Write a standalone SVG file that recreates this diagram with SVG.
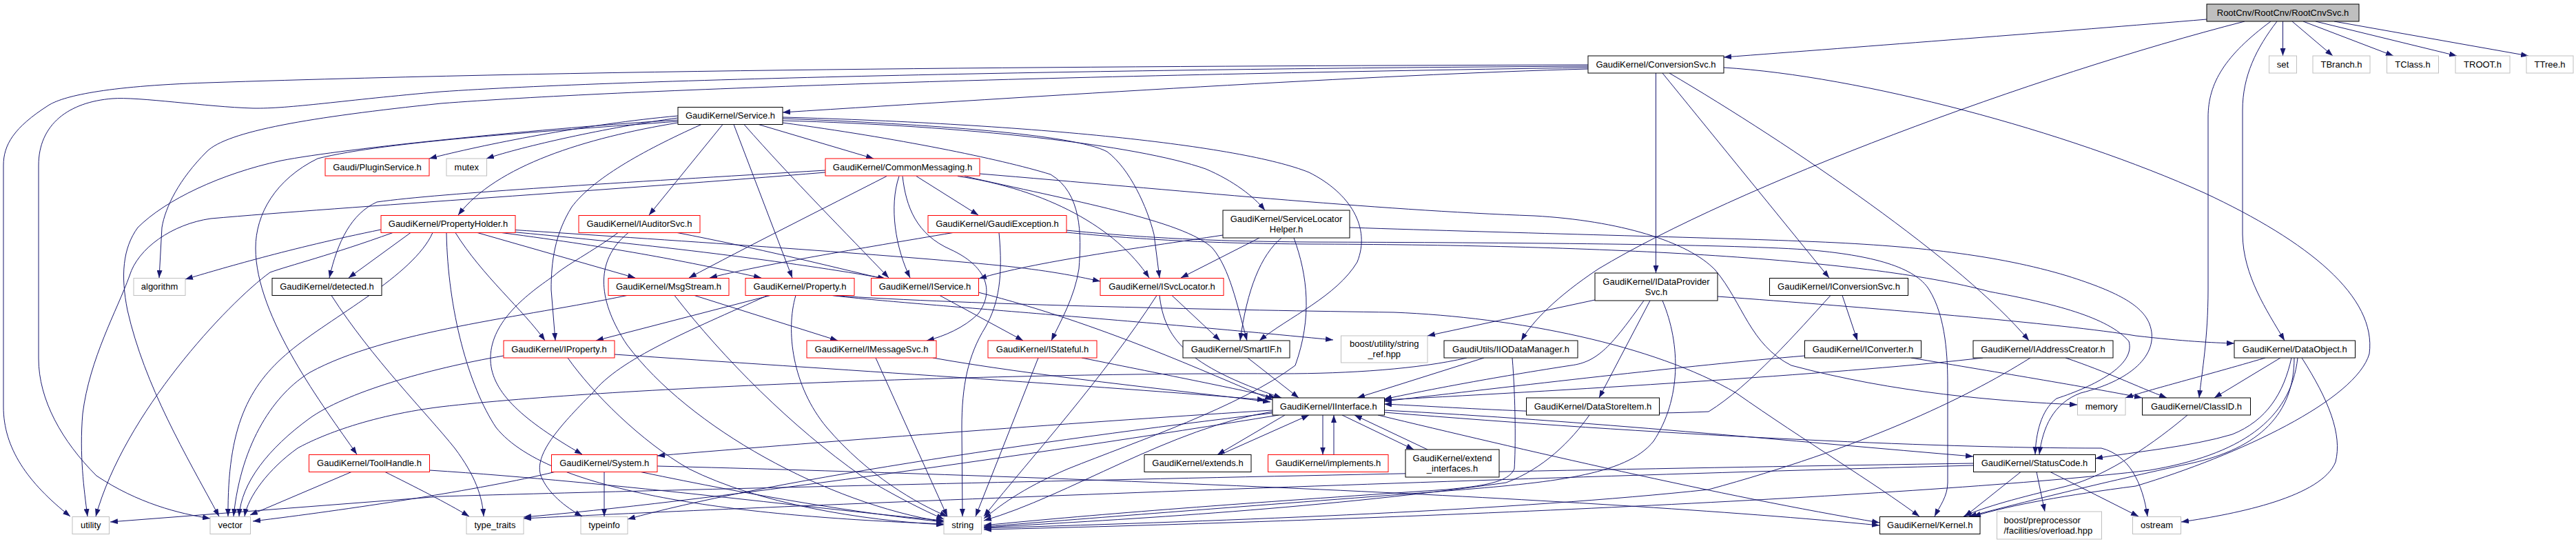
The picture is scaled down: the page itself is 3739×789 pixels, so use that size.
<svg xmlns="http://www.w3.org/2000/svg" width="3739" height="789" viewBox="0 0 3739 789">
<defs>
<marker id="a" viewBox="0 0 11 8" refX="11" refY="4" markerWidth="11" markerHeight="8" orient="auto" markerUnits="userSpaceOnUse"><path d="M0,0L11,4L0,8z" fill="#191970"/></marker>
<style>
rect{fill:#fff;stroke:#000;stroke-width:1}
.r rect{stroke:#ff0000}
.g rect{stroke:#bfbfbf}
.root rect{fill:#bfbfbf;stroke:#000}
text{font-family:"Liberation Sans",Arial,Helvetica,sans-serif;font-size:13px;text-anchor:middle;fill:#000}
.lt text{text-anchor:start}
#edges path{fill:none;stroke:#191970;stroke-width:1;marker-end:url(#a)}
</style>
</defs>
<rect x="0" y="0" width="3739" height="789" style="fill:#fff;stroke:none"/>
<g id="edges">
<path d="M3203,28 C3000,45 2700,68 2502,83"/>
<path d="M3258,31 C2950,110 2520,270 2320,390 C2260,430 2225,465 2208,494"/>
<path d="M3313.5,31 L3313.5,81"/>
<path d="M3327,31 L3386,81"/>
<path d="M3343,31 L3474,81"/>
<path d="M3361,31 L3566,81"/>
<path d="M3388,31 L3670,81"/>
<path d="M3296,31 C3230,80 3205,120 3205,170 L3205,420 C3205,490 3196,540 3192,577"/>
<path d="M3305,31 C3275,70 3255,110 3255,160 L3255,340 C3256,400 3290,450 3316,494"/>
<path d="M2305,100 C2000,108 1500,140 1136,163"/>
<path d="M2305,94 C1600,96 900,100 300,120 C150,125 90,140 70,153 C20,185 5,210 5,240 L5,590 C5,650 40,700 102,749"/>
<path d="M2305,96 C1600,100 900,115 640,133 C500,145 420,158 367,157 C300,155 200,140 163,143 C100,148 56,180 56,240 L56,520 C56,580 90,640 140,690 C200,730 260,745 305,752"/>
<path d="M2305,98 C1500,110 900,130 640,150 C450,170 330,190 300,220 C260,260 240,300 235,330 L231,403"/>
<path d="M2403.5,106 L2403.5,396"/>
<path d="M2413,106 L2655,403"/>
<path d="M2423,106 C2600,210 2850,380 2945,494"/>
<path d="M2502,98 C2700,110 3000,190 3200,280 C3350,350 3450,430 3439,513 C3420,580 3250,660 3100,705 C3000,718 2920,732 2864,749"/>
<path d="M984,168 C850,180 700,210 623,230"/>
<path d="M984,171 C880,185 760,212 706,230"/>
<path d="M1101,180.5 L1268,230"/>
<path d="M984,178 C850,200 720,240 665,312"/>
<path d="M1049,180.5 L942,312"/>
<path d="M1065,180.5 L1150,403"/>
<path d="M1080,180.5 C1150,260 1230,340 1290,403"/>
<path d="M984,176 C800,190 560,205 461,230 C400,260 371,310 371,360 C371,460 470,590 518,659"/>
<path d="M984,174 C800,185 500,215 408,233 C320,252 240,290 200,330 C178,360 175,400 185,450 C210,560 270,660 318,749"/>
<path d="M1018,180.5 C930,220 860,260 830,300 C805,340 800,380 800,420 L806,494"/>
<path d="M1136,178 C1300,200 1450,230 1525,253 C1570,280 1570,340 1566,390 C1560,430 1540,465 1526,494"/>
<path d="M1136,172 C1350,180 1560,195 1607,220 C1640,245 1665,300 1675,340 L1683,403"/>
<path d="M1136,175 C1400,182 1650,210 1750,245 C1790,262 1820,285 1836,305"/>
<path d="M1136,170 C1500,180 1800,210 1900,250 C1960,280 1990,330 1970,380 C1940,430 1870,460 1828,494"/>
<path d="M1198,247 C900,265 640,280 547,293 C510,310 490,350 478,403"/>
<path d="M1198,250 C900,275 500,300 306,317 C250,325 200,360 188,400 C170,450 130,520 120,600 C115,660 122,710 127,749"/>
<path d="M1330,255.5 L1420,312"/>
<path d="M1287,255.5 C1200,300 1080,360 1000,403"/>
<path d="M1305,255.5 C1290,300 1300,360 1321,403"/>
<path d="M1310,255.5 C1315,300 1330,340 1380,362 C1430,385 1445,420 1420,455 C1400,475 1370,488 1345,494"/>
<path d="M1390,255.5 C1520,275 1620,330 1668,403"/>
<path d="M1400,255.5 C1550,290 1720,320 1760,360 C1785,390 1795,440 1810,494"/>
<path d="M1422,252 C1700,275 2000,305 2227,313 C2350,320 2450,350 2490,392 C2530,440 2540,500 2600,530 C2750,570 2900,582 3015,587"/>
<path d="M553,333 C420,360 320,390 269,405"/>
<path d="M596,337.5 L506,403"/>
<path d="M693,337.5 L922,403"/>
<path d="M728,337.5 C900,360 1000,380 1105,403"/>
<path d="M661,337.5 C700,400 760,450 791,494"/>
<path d="M570,337.5 C480,370 420,385 392,395 C330,440 180,600 139,749"/>
<path d="M628,337.5 C600,400 480,460 420,510 C360,560 330,620 331,749"/>
<path d="M648,337.5 C650,450 680,560 720,620 C800,720 1100,750 1370,760"/>
<path d="M728,335 C950,355 1150,380 1285,404"/>
<path d="M740,333 C1000,350 1300,370 1450,385 C1520,392 1560,400 1597,408"/>
<path d="M897,337.5 C860,365 820,385 804,400 C760,430 710,470 712,523 C714,570 760,610 845,659"/>
<path d="M912,337.5 C860,380 870,440 910,500 C1000,620 1200,730 1370,757"/>
<path d="M983,337.5 C1100,360 1200,385 1285,405"/>
<path d="M1383,337.5 C1250,360 1100,385 1030,403"/>
<path d="M1450,337.5 C1456,400 1450,440 1430,475 C1405,515 1396,560 1396,620 L1397,749"/>
<path d="M1548,334 C1650,344 1750,350 1900,351 C2200,352 2500,354 2620,362 C2720,370 2780,388 2800,420 C2825,460 2827,520 2827,560 L2827,700 C2827,720 2815,735 2808,749"/>
<path d="M1548,337 C1650,347 1750,353 1900,354 C2300,355 2700,372 2888,423 C2980,440 3060,460 3090,495 C3100,530 3040,560 2985,578 C2962,595 2955,630 2954,659"/>
<path d="M1775,341 C1650,360 1500,380 1421,404"/>
<path d="M1828,345 L1714,403"/>
<path d="M1860,345 C1830,370 1810,420 1800,494"/>
<path d="M1878,345 C1898,400 1905,460 1880,530 C1800,590 1650,640 1550,680 C1480,710 1450,735 1428,752"/>
<path d="M1959,330 C2200,338 2500,345 2620,350 C2780,356 2900,370 3000,400 C3080,425 3110,445 3120,470 C3135,510 3100,550 3020,570 C2980,585 2965,620 2960,659"/>
<path d="M910,428.5 C760,460 560,480 450,540 C400,570 350,640 339,749"/>
<path d="M979,428.5 C1050,520 1150,620 1250,690 C1300,720 1340,740 1370,753"/>
<path d="M1008,428.5 L1216,494"/>
<path d="M1118,428.5 L865,494"/>
<path d="M1114,428.5 C1000,480 900,520 860,570 C810,620 775,660 785,690 C795,715 820,735 845,749"/>
<path d="M1155,428.5 C1140,480 1150,560 1200,620 C1260,690 1330,730 1375,749"/>
<path d="M1208,428.5 C1300,440 1600,460 1935,493"/>
<path d="M1208,428.5 C1400,442 1800,450 2023,453 C2200,460 2400,500 2520,570 C2620,640 2720,700 2786,749"/>
<path d="M1364,428.5 L1485,494"/>
<path d="M1420,424 C1600,470 1750,540 1847,580"/>
<path d="M1679,428.5 C1600,550 1500,660 1428,749"/>
<path d="M1683,428.5 C1690,490 1720,530 1860,577"/>
<path d="M1701,428.5 L1771,494"/>
<path d="M731,516 C620,535 500,570 449,607 C390,650 350,700 347,749"/>
<path d="M824,519 C860,570 930,640 1000,680 C1100,730 1250,755 1370,761"/>
<path d="M892,514 C1200,535 1600,560 1836,580"/>
<path d="M1271,519 L1375,749"/>
<path d="M1354,519 C1500,545 1700,565 1844,583"/>
<path d="M1507,519 L1416,749"/>
<path d="M1570,519 C1700,545 1800,565 1852,577"/>
<path d="M1811,519 L1885,577"/>
<path d="M2129,519 C2060,535 1960,542 1860,542 C1500,540 900,560 640,590 C520,605 450,640 432,650 C390,680 360,720 355,749"/>
<path d="M2154,519 L1970,577"/>
<path d="M2195,519 C2200,580 2200,650 2198,680 C2190,700 2150,705 2100,710 C1800,730 1600,745 1428,762"/>
<path d="M2315,435 L2072,487"/>
<path d="M2386,436 C2340,500 2320,525 2280,530 C2150,550 2050,570 2009,579"/>
<path d="M2395,436 L2321,577"/>
<path d="M2413,436 C2440,500 2440,580 2400,640 C2360,690 2250,700 2100,712 C1800,735 1600,750 1428,764"/>
<path d="M2493,430 C2700,445 3000,470 3100,487 C3170,495 3210,497 3243,498"/>
<path d="M2657,428.5 C2610,480 2540,560 2480,597 C2300,605 2100,590 2009,586"/>
<path d="M2674,428.5 L2696,494"/>
<path d="M2620,516 C2450,530 2200,560 2009,582"/>
<path d="M2774,519 C2900,540 3050,565 3109,577"/>
<path d="M2878,519 C2700,540 2300,565 2009,580"/>
<path d="M2947,519 C2850,580 2700,650 2480,710 C2200,740 1800,755 1428,766"/>
<path d="M2998,519 C3060,540 3100,560 3145,577"/>
<path d="M3288,519 C3200,545 3120,565 3085,577"/>
<path d="M3310,519 L3214,577"/>
<path d="M3326,519 C3315,570 3290,610 3240,630 C3180,648 3100,655 3041,665"/>
<path d="M3330,519 C3330,600 3280,650 3180,672 C3050,700 2930,730 2858,749"/>
<path d="M3341,519 C3380,580 3400,630 3390,670 C3370,720 3250,745 3166,757"/>
<path d="M3335,519 C3325,610 3250,660 3120,682 C2800,720 2000,755 1428,768"/>
<path d="M2307,602 C2280,640 2240,680 2186,700 C1900,740 1600,755 1428,765"/>
<path d="M1865,602 L1767,659.5"/>
<path d="M1771,659.5 L1900,602"/>
<path d="M1920,602 L1920,659.5"/>
<path d="M1936,659.5 L1936,602"/>
<path d="M1948,602 L2052,652"/>
<path d="M2072,652 L1966,602"/>
<path d="M1847,595 C1600,610 1200,640 954,661"/>
<path d="M1847,599 C1500,640 1100,700 911,753"/>
<path d="M1856,602 C1500,660 1000,730 760,750"/>
<path d="M1847,597 C1700,620 1550,720 1428,755"/>
<path d="M2009,595 C2300,610 2600,640 2864,662"/>
<path d="M2000,602 C2200,650 2500,720 2728,758"/>
<path d="M2009,598 C2400,630 2800,650 3050,650 C3090,660 3110,700 3117,749"/>
<path d="M510,684.5 L363,747"/>
<path d="M559,684.5 C600,705 650,730 681,749"/>
<path d="M623.5,682 C900,700 1200,740 1370,755"/>
<path d="M877,684.5 L877,749"/>
<path d="M805,684.5 C700,710 500,740 367,756"/>
<path d="M930,684.5 C1100,720 1250,745 1370,757"/>
<path d="M954,676 C1500,690 2300,720 2728,762"/>
<path d="M481,428.5 C540,520 620,600 660,650 C690,690 700,720 702,749"/>
<path d="M2933,684.5 L2852,749"/>
<path d="M2956,684.5 L2968,742"/>
<path d="M2976,684.5 L3104,749"/>
<path d="M2864.5,672 C2000,685 900,712 640,720 L160,757"/>
<path d="M2864.5,675 C2000,698 1100,735 760,752"/>
<path d="M3175,602 C3130,640 3060,690 3000,705 C2930,722 2880,735 2850,749"/>
</g>
<g id="n_root" class="root"><rect x="3203" y="6" width="221" height="25"/><text x="3313.5" y="22.5">RootCnv/RootCnv/RootCnvSvc.h</text></g>
<g id="n_set" class="g"><rect x="3293.5" y="81" width="40" height="25"/><text x="3313.5" y="97.5">set</text></g>
<g id="n_TBranch" class="g"><rect x="3357" y="81" width="83" height="25"/><text x="3398.5" y="97.5">TBranch.h</text></g>
<g id="n_TClass" class="g"><rect x="3464.5" y="81" width="75" height="25"/><text x="3502" y="97.5">TClass.h</text></g>
<g id="n_TROOT" class="g"><rect x="3564" y="81" width="79" height="25"/><text x="3603.5" y="97.5">TROOT.h</text></g>
<g id="n_TTree" class="g"><rect x="3667" y="81" width="68" height="25"/><text x="3701" y="97.5">TTree.h</text></g>
<g id="n_ConversionSvc"><rect x="2305" y="81" width="197" height="25"/><text x="2403.5" y="97.5">GaudiKernel/ConversionSvc.h</text></g>
<g id="n_Service"><rect x="984" y="155.5" width="152" height="25"/><text x="1060" y="172">GaudiKernel/Service.h</text></g>
<g id="n_PluginService" class="r"><rect x="472" y="230" width="151" height="25"/><text x="547.5" y="246.5">Gaudi/PluginService.h</text></g>
<g id="n_mutex" class="g"><rect x="648" y="230" width="58.5" height="25"/><text x="677.25" y="246.5">mutex</text></g>
<g id="n_CommonMessaging" class="r"><rect x="1198" y="230" width="224" height="25"/><text x="1310" y="246.5">GaudiKernel/CommonMessaging.h</text></g>
<g id="n_PropertyHolder" class="r"><rect x="553" y="312.5" width="195" height="25"/><text x="650.5" y="329">GaudiKernel/PropertyHolder.h</text></g>
<g id="n_IAuditorSvc" class="r"><rect x="840" y="312.5" width="176" height="25"/><text x="928" y="329">GaudiKernel/IAuditorSvc.h</text></g>
<g id="n_GaudiException" class="r"><rect x="1347" y="312.5" width="201" height="25"/><text x="1447.5" y="329">GaudiKernel/GaudiException.h</text></g>
<g id="n_ServiceLocatorHelper"><rect x="1775" y="305" width="184" height="40"/><text x="1867" y="321.5">GaudiKernel/ServiceLocator</text><text x="1867" y="336.5">Helper.h</text></g>
<g id="n_algorithm" class="g"><rect x="194" y="403.5" width="75" height="25"/><text x="231.5" y="420">algorithm</text></g>
<g id="n_detected"><rect x="395" y="403.5" width="159" height="25"/><text x="474.5" y="420">GaudiKernel/detected.h</text></g>
<g id="n_MsgStream" class="r"><rect x="883" y="403.5" width="175" height="25"/><text x="970.5" y="420">GaudiKernel/MsgStream.h</text></g>
<g id="n_Property" class="r"><rect x="1082" y="403.5" width="158" height="25"/><text x="1161" y="420">GaudiKernel/Property.h</text></g>
<g id="n_IService" class="r"><rect x="1264.5" y="403.5" width="156" height="25"/><text x="1342.5" y="420">GaudiKernel/IService.h</text></g>
<g id="n_ISvcLocator" class="r"><rect x="1597" y="403.5" width="179" height="25"/><text x="1686.5" y="420">GaudiKernel/ISvcLocator.h</text></g>
<g id="n_IDataProviderSvc"><rect x="2315" y="396" width="178" height="40"/><text x="2404" y="412.5">GaudiKernel/IDataProvider</text><text x="2404" y="427.5">Svc.h</text></g>
<g id="n_IConversionSvc"><rect x="2568.5" y="403.5" width="201" height="25"/><text x="2669" y="420">GaudiKernel/IConversionSvc.h</text></g>
<g id="n_IProperty" class="r"><rect x="731" y="494" width="161" height="25"/><text x="811.5" y="510.5">GaudiKernel/IProperty.h</text></g>
<g id="n_IMessageSvc" class="r"><rect x="1171" y="494" width="188" height="25"/><text x="1265" y="510.5">GaudiKernel/IMessageSvc.h</text></g>
<g id="n_IStateful" class="r"><rect x="1434" y="494" width="158" height="25"/><text x="1513" y="510.5">GaudiKernel/IStateful.h</text></g>
<g id="n_SmartIF"><rect x="1717" y="494" width="155" height="25"/><text x="1794.5" y="510.5">GaudiKernel/SmartIF.h</text></g>
<g id="n_string_ref" class="g"><rect x="1946.5" y="487" width="125.5" height="39"/><text x="2009.25" y="503">boost/utility/string</text><text x="2009.25" y="518">_ref.hpp</text></g>
<g id="n_IIODataManager"><rect x="2096" y="494" width="194" height="25"/><text x="2193" y="510.5">GaudiUtils/IIODataManager.h</text></g>
<g id="n_IConverter"><rect x="2619.5" y="494" width="169" height="25"/><text x="2704" y="510.5">GaudiKernel/IConverter.h</text></g>
<g id="n_IAddressCreator"><rect x="2864" y="494" width="203" height="25"/><text x="2965.5" y="510.5">GaudiKernel/IAddressCreator.h</text></g>
<g id="n_DataObject"><rect x="3243" y="494" width="175.5" height="25"/><text x="3330.75" y="510.5">GaudiKernel/DataObject.h</text></g>
<g id="n_IInterface"><rect x="1847" y="577" width="162.5" height="25"/><text x="1928.25" y="593.5">GaudiKernel/IInterface.h</text></g>
<g id="n_DataStoreItem"><rect x="2215.5" y="577" width="193" height="25"/><text x="2312" y="593.5">GaudiKernel/DataStoreItem.h</text></g>
<g id="n_memory" class="g"><rect x="3015.5" y="577" width="69.5" height="25"/><text x="3050.25" y="593.5">memory</text></g>
<g id="n_ClassID"><rect x="3109.5" y="577" width="157" height="25"/><text x="3188" y="593.5">GaudiKernel/ClassID.h</text></g>
<g id="n_ToolHandle" class="r"><rect x="448.5" y="659.5" width="175" height="25"/><text x="536" y="676">GaudiKernel/ToolHandle.h</text></g>
<g id="n_System" class="r"><rect x="800.5" y="659.5" width="153.5" height="25"/><text x="877.25" y="676">GaudiKernel/System.h</text></g>
<g id="n_extends"><rect x="1661" y="659.5" width="155" height="25"/><text x="1738.5" y="676">GaudiKernel/extends.h</text></g>
<g id="n_implements" class="r"><rect x="1840.5" y="659.5" width="174.5" height="25"/><text x="1927.75" y="676">GaudiKernel/implements.h</text></g>
<g id="n_extend_interfaces"><rect x="2040" y="652" width="136" height="40"/><text x="2108" y="668.5">GaudiKernel/extend</text><text x="2108" y="683.5">_interfaces.h</text></g>
<g id="n_StatusCode"><rect x="2864.5" y="659.5" width="177" height="25"/><text x="2953" y="676">GaudiKernel/StatusCode.h</text></g>
<g id="n_utility" class="g"><rect x="105" y="749.5" width="53.5" height="25"/><text x="131.75" y="766">utility</text></g>
<g id="n_vector" class="g"><rect x="305" y="749.5" width="58.5" height="25"/><text x="334.25" y="766">vector</text></g>
<g id="n_type_traits" class="g"><rect x="677" y="749.5" width="83" height="25"/><text x="718.5" y="766">type_traits</text></g>
<g id="n_typeinfo" class="g"><rect x="843" y="749.5" width="68" height="25"/><text x="877" y="766">typeinfo</text></g>
<g id="n_string" class="g"><rect x="1370" y="749.5" width="54.5" height="25"/><text x="1397.25" y="766">string</text></g>
<g id="n_Kernel"><rect x="2728.5" y="749.5" width="145.5" height="25"/><text x="2801.25" y="766">GaudiKernel/Kernel.h</text></g>
<g id="n_overload" class="g lt"><rect x="2898.5" y="742" width="152" height="40"/><text x="2908.5" y="758.5">boost/preprocessor</text><text x="2908.5" y="773.5">/facilities/overload.hpp</text></g>
<g id="n_ostream" class="g"><rect x="3095.5" y="749.5" width="70" height="25"/><text x="3130.5" y="766">ostream</text></g>
</svg>
